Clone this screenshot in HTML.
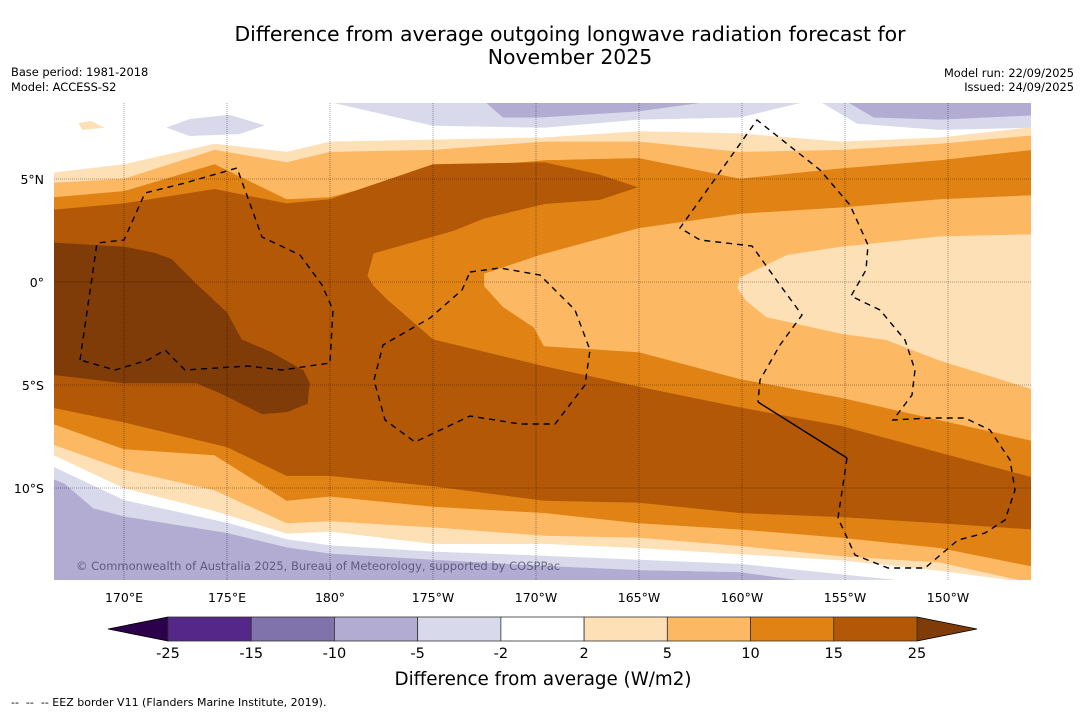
<!DOCTYPE html>
<html><head><meta charset="utf-8">
<style>
html,body{margin:0;padding:0;background:#fff;}
svg{display:block;font-family:"DejaVu Sans","Liberation Sans",sans-serif;}
</style></head>
<body>
<svg id="chart" width="1085" height="713" viewBox="0 0 1085 713" xmlns="http://www.w3.org/2000/svg">
<rect x="0" y="0" width="1085" height="713" fill="#fff"/>
<text x="570" y="41" font-size="20.4" text-anchor="middle" fill="#000">Difference from average outgoing longwave radiation forecast for</text>
<text x="570" y="64" font-size="20.4" text-anchor="middle" fill="#000">November 2025</text>
<text x="11" y="76" font-size="11.4" fill="#000">Base period: 1981-2018</text>
<text x="11" y="91" font-size="11.4" fill="#000">Model: ACCESS-S2</text>
<text x="1074" y="77" font-size="11.4" fill="#000" text-anchor="end">Model run: 22/09/2025</text>
<text x="1074" y="91" font-size="11.4" fill="#000" text-anchor="end">Issued: 24/09/2025</text>
<defs><clipPath id="mapclip"><rect x="54" y="103" width="977" height="477"/></clipPath></defs>
<g id="map" clip-path="url(#mapclip)"></g>
<g id="grid"></g>
<g clip-path="url(#mapclip)" fill="none" stroke="#000" stroke-width="1.4">
<path stroke-dasharray="6,5" d="M80,360 L97,243 L124,240 L145,193 L185,183 L237,168 L262,237 L300,255 L322,285 L333,310 L330,363 L282,370 L248,366 L185,370 L165,350 L148,360 L115,370 L80,360"/>
<path stroke-dasharray="6,5" d="M470,272 L500,268 L540,275 L575,310 L590,350 L585,385 L555,424 L520,424 L470,416 L415,442 L385,420 L374,380 L383,345 L430,318 L462,290 Z"/>
<path stroke-dasharray="6,5" d="M847,458 L838,518 L855,555 L888,568 L925,568 L958,540 L985,533 L1005,520 L1015,490 L1010,460 L990,430 L965,418 L930,418 L893,420 L912,395 L915,370 L905,340 L880,310 L851,296 L866,270 L868,245 L850,205 L820,170 L757,120 L680,228 L700,240 L752,246 L780,285 L802,315 L780,345 L760,380 L758,402"/>
<path d="M758,402 L847,458"/>
</g>
<text x="76" y="570" font-size="11.5" fill="rgba(60,60,90,0.7)">© Commonwealth of Australia 2025, Bureau of Meteorology, supported by COSPPac</text>
<g id="axes"></g>
<g id="cbar"></g>
<text x="543" y="685" font-size="18.3" text-anchor="middle" fill="#000">Difference from average (W/m2)</text>
<text x="11" y="706" font-size="11" fill="#000" xml:space="preserve" style="white-space:pre">--  --  -- EEZ border V11 (Flanders Marine Institute, 2019).</text>
</svg>
<script>
// ---- data ----
const lonTicks = [170,175,180,185,190,195,200,205,210];
const lonTickLabels = ["170°E","175°E","180°","175°W","170°W","165°W","160°W","155°W","150°W"];
const latTicks = [5,0,-5,-10];
const latTickLabels = ["5°N","0°","5°S","10°S"];
const cbLevels = [-25,-15,-10,-5,-2,2,5,10,15,25];
const cbColors = ["#542788","#8073ac","#b2abd2","#d8daeb","#ffffff","#fee0b6","#fdb863","#e08214","#b35806"];
const cbUnder = "#2d004b";
const cbOver = "#7f3b08";
const bandLons = [166.6,170,174.4,177.9,180,185,190.4,195,199.9,204.8,209.6,214.1];
const lvl2Top = [5.3,5.7,6.7,6.3,6.8,6.9,7.0,7.3,7.2,6.8,7.0,7.5];
const lvl2Bot = [-8.4,-10.0,-11.1,-12.2,-12.1,-12.7,-12.7,-12.9,-13.2,-13.5,-14.0,-14.6];
const lvl5Top = [4.8,5.0,6.4,5.8,6.3,6.4,6.8,6.8,6.3,6.4,6.7,7.1];
const lvl5Bot = [-7.9,-9.1,-10.1,-11.7,-11.6,-11.9,-12.3,-12.4,-12.8,-13.3,-13.6,-14.6];
const lvl10Top = [4.1,4.4,5.7,4.0,4.1,5.4,5.9,6.0,5.0,5.5,5.9,6.4];
const lvl10Bot = [-6.9,-8.1,-8.4,-10.6,-10.4,-10.9,-11.2,-11.7,-12.0,-12.4,-12.9,-13.8];
const hole10Lon = [214.1,209.6,204.8,199.9,195,190.2,187.5,187.5,188.4,189.9,190.4,195,199.9,204.8,209.6,214.1];
const hole10Lat = [4.2,4.0,3.6,3.3,2.6,1.3,0.4,-0.2,-1.2,-2.2,-3.1,-3.4,-4.7,-5.6,-6.7,-7.7];
const hole5Lon = [214.1,209.6,204.8,202.2,199.9,199.8,200.2,201.2,204.8,207,209.6,214.1];
const hole5Lat = [2.3,2.2,1.7,1.3,0.2,-0.3,-0.9,-1.7,-2.5,-2.8,-3.8,-5.2];
const lvl15Lon = [166.6,170,174.4,177.9,180,185,190.4,193.1,194.9,193.1,190.4,187.5,186,182.1,181.8,182.1,182.8,185,190.4,195,199.9,204.8,209.6,214.1,214.1,209.6,204.8,199.9,195,190.4,185,180,177.9,175,170,166.6];
const lvl15Lat = [3.5,3.8,4.5,3.8,4.0,5.7,5.8,5.2,4.6,4.0,3.8,3.1,2.5,1.4,0.3,-0.2,-0.9,-2.8,-4.1,-5.1,-6.1,-7.0,-8.3,-9.5,-12.0,-11.7,-11.4,-11.2,-10.7,-10.6,-9.9,-9.4,-9.4,-8.0,-6.8,-6.1];
const lvl25Lon = [166.6,170,171.5,172.3,173.4,175,175.7,177.1,178.7,179,178.9,177.9,176.7,175.7,174.7,173.5,170,166.6];
const lvl25Lat = [1.9,1.7,1.4,1.1,0,-1.5,-2.8,-3.4,-4.3,-4.9,-5.9,-6.3,-6.4,-5.9,-5.4,-4.9,-4.9,-4.5];
const neg2TopALon = [180.2,185,190.4,195,199.9,202.8];
const neg2TopALat = [8.7,7.6,7.5,7.9,8.0,8.7];
const neg2TopBLon = [203.9,205.6,209.6,214.1,214.1];
const neg2TopBLat = [8.7,7.7,7.4,7.5,8.7];
const neg2BlobLon = [172.1,173.2,175.1,176.8,175.6,173.2];
const neg2BlobLat = [7.5,7.9,8.1,7.6,7.2,7.1];
const neg5TopALon = [187.6,188.4,190.2,195,197.9];
const neg5TopALat = [8.7,8.0,8.0,8.3,8.7];
const neg5TopBLon = [205.2,206.4,209.6,214.1,214.1];
const neg5TopBLat = [8.7,8.0,7.9,8.1,8.7];
const neg2BotLon = [166.6,170,175,177.9,180,185,190.4,195,199.9,204.8,207.7,207.7,166.6];
const neg2BotLat = [-9.0,-10.6,-11.7,-12.5,-12.8,-13.1,-13.3,-13.5,-13.7,-14.2,-14.5,-14.8,-14.8];
const neg5BotLon = [166.6,167.1,168.5,170,175,177.9,180,185,190.4,195,199.9,202.8,202.8,166.6];
const neg5BotLat = [-9.6,-9.8,-11.0,-11.4,-12.2,-12.9,-13.2,-13.5,-13.8,-14.0,-14.1,-14.5,-14.8,-14.8];
const peachPatchLon = [167.8,168.4,169.0,168.0];
const peachPatchLat = [7.7,7.8,7.5,7.4];

// ---- axis functions ----
const X0 = 124, LON0 = 170, Y0 = 282, PX = 20.6;
function xOf(lon){ return X0 + (lon - LON0) * PX; }
function yOf(lat){ return Y0 - lat * PX; }
const NS = "http://www.w3.org/2000/svg";
const mapG = document.getElementById('map');

function polyPts(lons, lats){
  return lons.map((l,i)=> xOf(l).toFixed(1)+","+yOf(lats[i]).toFixed(1)).join(" ");
}
function addPoly(lons, lats, color, name){
  const p = document.createElementNS(NS,'polygon');
  p.setAttribute('points', polyPts(lons, lats));
  p.setAttribute('fill', color);
  p.setAttribute('stroke', color);
  p.setAttribute('stroke-width', '0.6');
  
  
  mapG.appendChild(p);
}
function addBand(top, bot, color, name){
  const lons = bandLons.concat(bandLons.slice().reverse());
  const lats = top.concat(bot.slice().reverse());
  addPoly(lons, lats, color, name);
}
addPoly(neg2TopALon, neg2TopALat, cbColors[3], 'contour-neg2-top-a');
addPoly(neg2TopBLon, neg2TopBLat, cbColors[3], 'contour-neg2-top-b');
addPoly(neg2BlobLon, neg2BlobLat, cbColors[3], 'contour-neg2-blob');
addPoly(neg5TopALon, neg5TopALat, cbColors[2], 'contour-neg5-top-a');
addPoly(neg5TopBLon, neg5TopBLat, cbColors[2], 'contour-neg5-top-b');
addPoly(neg2BotLon, neg2BotLat, cbColors[3], 'contour-neg2-bottom');
addPoly(neg5BotLon, neg5BotLat, cbColors[2], 'contour-neg5-bottom');
addPoly(peachPatchLon, peachPatchLat, cbColors[5], 'contour-pos2-patch');
addBand(lvl2Top, lvl2Bot, cbColors[5], 'contour-pos2');
addBand(lvl5Top, lvl5Bot, cbColors[6], 'contour-pos5');
addBand(lvl10Top, lvl10Bot, cbColors[7], 'contour-pos10');
addPoly(hole10Lon, hole10Lat, cbColors[6], 'contour-pos10-hole');
addPoly(hole5Lon, hole5Lat, cbColors[5], 'contour-pos5-hole');
addPoly(lvl15Lon, lvl15Lat, cbColors[8], 'contour-pos15');
addPoly(lvl25Lon, lvl25Lat, cbOver, 'contour-pos25');

// grid + tick labels
const gridG = document.getElementById('grid');
const axG = document.getElementById('axes');
lonTicks.forEach((lon,i)=>{
  const x = xOf(lon);
  const l = document.createElementNS(NS,'line');
  l.setAttribute('x1',x); l.setAttribute('x2',x); l.setAttribute('y1',103); l.setAttribute('y2',580);
  l.setAttribute('stroke','rgba(0,0,0,0.45)'); l.setAttribute('stroke-width','0.8'); l.setAttribute('stroke-dasharray','1,1');
  
  
  gridG.appendChild(l);
  const t = document.createElementNS(NS,'text');
  t.setAttribute('x',x); t.setAttribute('y',602); t.setAttribute('font-size','12.5'); t.setAttribute('text-anchor','middle');
  t.textContent = lonTickLabels[i];
  
  
  axG.appendChild(t);
});
latTicks.forEach((lat,i)=>{
  const y = yOf(lat);
  const l = document.createElementNS(NS,'line');
  l.setAttribute('x1',54); l.setAttribute('x2',1031); l.setAttribute('y1',y); l.setAttribute('y2',y);
  l.setAttribute('stroke','rgba(0,0,0,0.45)'); l.setAttribute('stroke-width','0.8'); l.setAttribute('stroke-dasharray','1,1');
  
  
  gridG.appendChild(l);
  const t = document.createElementNS(NS,'text');
  t.setAttribute('x',44); t.setAttribute('y',y+5); t.setAttribute('font-size','12.5'); t.setAttribute('text-anchor','end');
  t.textContent = latTickLabels[i];
  
  
  axG.appendChild(t);
});

// colorbar
const cb = document.getElementById('cbar');
const cbX0 = 168, cbX1 = 917, cbY = 617, cbH = 24, triW = 60;
const bw = (cbX1 - cbX0) / cbColors.length;
function cbX(i){ return cbX0 + i * bw; }
const under = document.createElementNS(NS,'polygon');
under.setAttribute('points', `${cbX0},${cbY} ${cbX0-triW},${cbY+cbH/2} ${cbX0},${cbY+cbH}`);
under.setAttribute('fill', cbUnder); under.setAttribute('stroke','#000'); under.setAttribute('stroke-width','0.8');


cb.appendChild(under);
const over = document.createElementNS(NS,'polygon');
over.setAttribute('points', `${cbX1},${cbY} ${cbX1+triW},${cbY+cbH/2} ${cbX1},${cbY+cbH}`);
over.setAttribute('fill', cbOver); over.setAttribute('stroke','#000'); over.setAttribute('stroke-width','0.8');


cb.appendChild(over);
cbColors.forEach((c,i)=>{
  const r = document.createElementNS(NS,'rect');
  r.setAttribute('x', cbX(i)); r.setAttribute('y', cbY); r.setAttribute('width', bw); r.setAttribute('height', cbH);
  r.setAttribute('fill', c); r.setAttribute('stroke','#333'); r.setAttribute('stroke-width','0.8');
  
  
  cb.appendChild(r);
});
cbLevels.forEach((v,i)=>{
  const t = document.createElementNS(NS,'text');
  t.setAttribute('x', cbX(i)); t.setAttribute('y', 658); t.setAttribute('font-size','14.5'); t.setAttribute('text-anchor','middle');
  t.textContent = String(v);
  
  
  cb.appendChild(t);
});
</script>
</body></html>
